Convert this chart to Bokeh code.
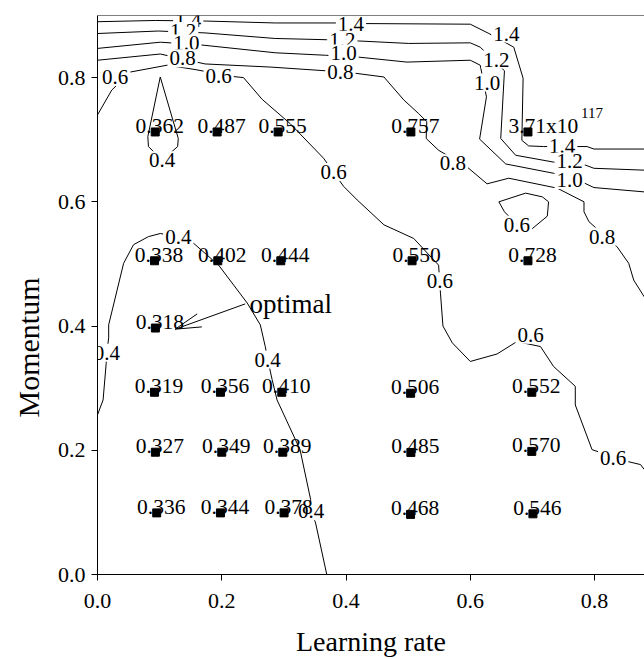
import numpy as np
from bokeh.plotting import figure
from bokeh.models import Range1d, FixedTicker, PrintfTickFormatter, Span, Title
from bokeh.core.properties import value
from bokeh.embed import file_html
from bokeh.resources import INLINE

FONT = "Liberation Serif"

# ---- axis ticks -------------------------------------------------------
x_ticks = [0.0, 0.2, 0.4, 0.6, 0.8]
y_ticks = [0.0, 0.2, 0.4, 0.6, 0.8]
x_title = "Learning rate"
y_title = "Momentum"

# ---- measured grid points (learning rate, momentum) and their errors ---
pt_x = [0.0953, 0.1979, 0.3003, 0.5039, 0.7008,
        0.0932, 0.2000, 0.2982, 0.5044, 0.6990,
        0.0918, 0.1979, 0.2966, 0.5040, 0.6990,
        0.0932,
        0.0918, 0.1936, 0.2950, 0.5063, 0.6928,
        0.0929, 0.1925, 0.2907, 0.5044]
pt_y = [0.0992, 0.0992, 0.0992, 0.0968, 0.0977,
        0.1969, 0.1969, 0.1969, 0.1965, 0.1982,
        0.2934, 0.2934, 0.2934, 0.2918, 0.2934,
        0.3968,
        0.5051, 0.5051, 0.5051, 0.5051, 0.5051,
        0.7125, 0.7125, 0.7125, 0.7125]
pt_label = ["0.336", "0.344", "0.378", "0.468", "0.546",
            "0.327", "0.349", "0.389", "0.485", "0.570",
            "0.319", "0.356", "0.410", "0.506", "0.552",
            "0.318",
            "0.338", "0.402", "0.444", "0.550", "0.728",
            "0.362", "0.487", "0.555", "0.757"]

# diverged point
big_x = [0.6928]
big_y = [0.7125]
big_mant = ["3.71x10"]
big_exp = ["117"]

c14_x = [0.000, 0.093, 0.176, 0.286, 0.386, 0.431, 0.600, 0.630, 0.670, 0.685, 0.683, 0.694, 0.718, 0.788, 0.799, 0.880]
c14_y = [0.890, 0.892, 0.891, 0.888, 0.888, 0.887, 0.886, 0.871, 0.849, 0.799, 0.699, 0.690, 0.689, 0.689, 0.685, 0.685]

c12_x = [0.000, 0.098, 0.173, 0.286, 0.369, 0.420, 0.501, 0.600, 0.616, 0.655, 0.649, 0.673, 0.734, 0.783, 0.799, 0.880]
c12_y = [0.871, 0.875, 0.872, 0.863, 0.861, 0.859, 0.855, 0.856, 0.849, 0.811, 0.702, 0.675, 0.664, 0.660, 0.654, 0.651]

c10_x = [0.000, 0.101, 0.163, 0.286, 0.367, 0.420, 0.498, 0.600, 0.616, 0.626, 0.615, 0.657, 0.734, 0.784, 0.799, 0.880]
c10_y = [0.847, 0.857, 0.853, 0.840, 0.836, 0.833, 0.825, 0.828, 0.820, 0.769, 0.701, 0.661, 0.646, 0.630, 0.623, 0.616]

c08_x = [0.000, 0.101, 0.173, 0.278, 0.367, 0.415, 0.461, 0.493, 0.517, 0.530, 0.529, 0.549, 0.595, 0.627,
         0.662, 0.740, 0.783, 0.783, 0.791, 0.836, 0.855, 0.863, 0.880]
c08_y = [0.828, 0.838, 0.822, 0.817, 0.811, 0.807, 0.801, 0.764, 0.742, 0.729, 0.702, 0.683, 0.656, 0.629,
         0.638, 0.622, 0.600, 0.584, 0.568, 0.528, 0.501, 0.474, 0.447]

c06a_x = [0.000, 0.023, 0.053, 0.112, 0.157, 0.216, 0.235, 0.265, 0.310, 0.364, 0.396, 0.418, 0.461, 0.509,
          0.549, 0.552, 0.556, 0.571, 0.600, 0.643, 0.675, 0.713, 0.734, 0.769, 0.769, 0.796, 0.853, 0.874, 0.880]
c06a_y = [0.740, 0.780, 0.809, 0.820, 0.813, 0.802, 0.800, 0.765, 0.726, 0.670, 0.625, 0.603, 0.563, 0.541,
          0.498, 0.453, 0.400, 0.373, 0.343, 0.355, 0.375, 0.367, 0.335, 0.303, 0.273, 0.201, 0.182, 0.177, 0.169]

c06b_x = [0.675, 0.655, 0.646, 0.689, 0.716, 0.726, 0.724, 0.700, 0.675]
c06b_y = [0.563, 0.584, 0.600, 0.614, 0.608, 0.600, 0.577, 0.557, 0.563]

c04a_x = [0.104, 0.082, 0.081, 0.101, 0.130, 0.129, 0.104]
c04a_y = [0.667, 0.689, 0.705, 0.801, 0.702, 0.689, 0.667]

c04b_x = [0.000, 0.009, 0.014, 0.015, 0.018, 0.018, 0.042, 0.058, 0.082, 0.101, 0.130, 0.155, 0.195, 0.241,
          0.262, 0.270, 0.274, 0.281, 0.289, 0.326, 0.343, 0.344, 0.351, 0.369]
c04b_y = [0.257, 0.281, 0.340, 0.357, 0.381, 0.402, 0.501, 0.531, 0.544, 0.549, 0.544, 0.533, 0.498, 0.437,
          0.402, 0.367, 0.346, 0.314, 0.281, 0.201, 0.121, 0.102, 0.083, 0.000]

# ---- contour level labels ---------------------------------------------
lab_text = ["1.4", "1.4", "1.4", "1.4",
            "1.2", "1.2", "1.2", "1.2",
            "1.0", "1.0", "1.0", "1.0",
            "0.8", "0.8", "0.8", "0.8",
            "0.6", "0.6", "0.6", "0.6", "0.6", "0.6", "0.6",
            "0.4", "0.4", "0.4", "0.4", "0.4"]
lab_x = [0.146, 0.408, 0.658, 0.748,
         0.138, 0.394, 0.642, 0.760,
         0.143, 0.396, 0.627, 0.760,
         0.137, 0.391, 0.572, 0.812,
         0.0285, 0.195, 0.380, 0.551, 0.697, 0.830, 0.675,
         0.104, 0.015, 0.130, 0.274, 0.344]
lab_y = [0.892, 0.887, 0.871, 0.690,
         0.875, 0.861, 0.829, 0.665,
         0.855, 0.839, 0.792, 0.635,
         0.831, 0.809, 0.662, 0.544,
         0.801, 0.803, 0.648, 0.472, 0.386, 0.188, 0.563,
         0.667, 0.357, 0.544, 0.346, 0.102]

# ---- "optimal" annotation ----------------------------------------------
note_text = ["optimal"]
note_x = [0.2448]
note_y = [0.4357]
arrow_x = [0.2378, 0.1251]   # start, tip
arrow_y = [0.4357, 0.3950]

p = figure(width=644, height=659,
           x_range=Range1d(0, 0.8804), y_range=Range1d(0, 0.9),
           output_backend="svg", toolbar_location=None,
           min_border_left=97, min_border_right=0,
           min_border_top=15, min_border_bottom=84)
p.outline_line_color = None
p.xgrid.visible = False
p.ygrid.visible = False
p.background_fill_color = "white"
p.border_fill_color = "white"

for ax in (p.xaxis[0], p.yaxis[0]):
    ax.major_label_text_font = FONT
    ax.major_label_text_font_size = "22px"
    ax.major_label_text_color = "black"
    ax.axis_label_text_font = FONT
    ax.axis_label_text_font_size = "28px"
    ax.axis_label_text_font_style = "normal"
    ax.axis_label_text_color = "black"
    ax.major_tick_in = 0
    ax.major_tick_out = 6
    ax.minor_tick_line_color = None
    ax.axis_line_color = "black"
    ax.major_tick_line_color = "black"
    ax.formatter = PrintfTickFormatter(format="%.1f")

p.xaxis.ticker = FixedTicker(ticks=x_ticks)
p.yaxis.ticker = FixedTicker(ticks=y_ticks)
p.xaxis.axis_label = x_title
p.xaxis.major_label_standoff = 13
p.yaxis.major_label_standoff = 6
p.xaxis.axis_label_standoff = 15

# y-axis title, placed lower than the frame centre as in the reference
p.add_layout(Title(text=y_title, align="left", offset=157, vertical_align="middle",
                   text_font=FONT, text_font_size="30px", text_font_style="normal",
                   text_color="black", standoff=18), "left")

p.add_layout(Span(location=0.9, dimension="width", line_color="black", line_width=1))

# contour lines
p.multi_line(xs=[c14_x, c12_x, c10_x, c08_x, c06a_x, c06b_x, c04a_x, c04b_x],
             ys=[c14_y, c12_y, c10_y, c08_y, c06a_y, c06b_y, c04a_y, c04b_y],
             line_color="black", line_width=1)

# contour labels with white boxes
p.text(x=lab_x, y=lab_y, text=lab_text, text_font=value(FONT), text_font_size="21px",
       text_align="center", text_baseline="middle", text_color="black",
       background_fill_color="white", padding=2)

# markers
p.scatter(x=pt_x + big_x, y=pt_y + big_y, marker="square", size=8,
          fill_color="black", line_color="black")

# value labels
p.text(x=pt_x, y=pt_y, text=pt_label, text_font=value(FONT), text_font_size="21.5px",
       text_align="center", text_baseline="alphabetic", x_offset=4.5, y_offset=-6,
       text_color="black")
p.text(x=big_x, y=big_y, text=big_mant, text_font=value(FONT), text_font_size="21.5px",
       text_align="left", text_baseline="alphabetic", x_offset=-19.5, y_offset=-6,
       text_color="black")
p.text(x=big_x, y=big_y, text=big_exp, text_font=value(FONT), text_font_size="15px",
       text_align="left", text_baseline="alphabetic", x_offset=53, y_offset=-19,
       text_color="black")

# optimal annotation
p.text(x=note_x, y=note_y, text=note_text, text_font=value(FONT), text_font_size="27px",
       text_align="left", text_baseline="alphabetic", text_color="black")
sx, tx = arrow_x
sy, ty = arrow_y
ang = np.arctan2(sy - ty, sx - tx)
hl = 0.043
spread = np.radians(15)
head_x1 = [tx + hl * np.cos(ang + spread), tx + hl * np.cos(ang - spread)]
head_y1 = [ty + hl * np.sin(ang + spread), ty + hl * np.sin(ang - spread)]
p.segment(x0=[sx, tx, tx], y0=[sy, ty, ty],
          x1=[tx, head_x1[0], head_x1[1]], y1=[ty, head_y1[0], head_y1[1]],
          line_color="black", line_width=1)

open("out.html", "w").write(file_html(p, INLINE))
